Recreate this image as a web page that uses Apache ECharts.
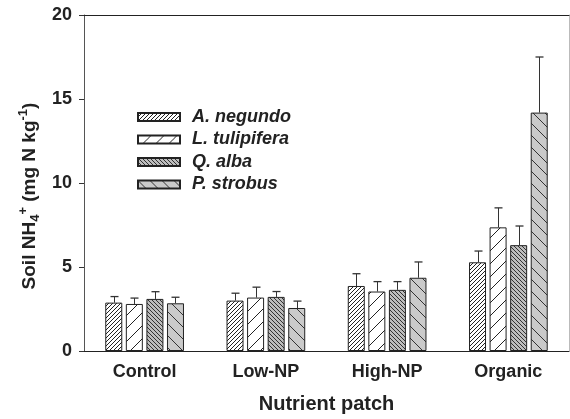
<!DOCTYPE html>
<html>
<head>
<meta charset="utf-8">
<script src="https://cdn.jsdelivr.net/npm/echarts@6/dist/echarts.min.js"></script>
<style>
html,body{margin:0;padding:0;background:#fff;}
#chart{width:570px;height:419px;}
</style>
</head>
<body>
<div id="chart"></div>
<script>
// ---- data ----
const categories = ['Control', 'Low-NP', 'High-NP', 'Organic'];
const seriesNames = ['A. negundo', 'L. tulipifera', 'Q. alba', 'P. strobus'];
const negundo     = [2.88, 3.00, 3.87, 5.28];
const negundoErr  = [0.36, 0.44, 0.73, 0.67];
const tulipifera    = [2.80, 3.18, 3.54, 7.36];
const tulipiferaErr = [0.35, 0.62, 0.59, 1.16];
const alba    = [3.10, 3.22, 3.64, 6.30];
const albaErr = [0.43, 0.32, 0.49, 1.14];
const strobus    = [2.84, 2.56, 4.36, 14.19];
const strobusErr = [0.36, 0.41, 0.94, 3.31];
const yTicks = [0, 5, 10, 15, 20];

const means = [negundo, tulipifera, alba, strobus];
const errs = [negundoErr, tulipiferaErr, albaErr, strobusErr];

// ---- hatch patterns ----
function makePattern(bg, dir, s, lineColor, lw) {
  const c = document.createElement('canvas');
  c.width = s; c.height = s;
  const ctx = c.getContext('2d');
  ctx.fillStyle = bg;
  ctx.fillRect(0, 0, s, s);
  ctx.strokeStyle = lineColor;
  ctx.lineWidth = lw;
  for (let k = -1; k <= 1; k++) {
    ctx.beginPath();
    if (dir === '/') {
      ctx.moveTo(k * s, s); ctx.lineTo(k * s + s, 0);
    } else {
      ctx.moveTo(k * s, 0); ctx.lineTo(k * s + s, s);
    }
    ctx.stroke();
  }
  return { image: c, repeat: 'repeat' };
}
const fills = [
  makePattern('#ffffff', '/', 4, '#222', 1),
  makePattern('#ffffff', '/', 13, '#222', 1),
  makePattern('#bdbdbd', '\\', 4, '#333', 1),
  makePattern('#cacaca', '\\', 12, '#333', 1)
];

const BAR_W = 17;
const GAP = 0.21;
const STEP = BAR_W * (1 + GAP);

const FONT = '"Liberation Sans", Arial, Helvetica, sans-serif';

const series = [];
seriesNames.forEach((name, k) => {
  series.push({
    name: name,
    type: 'bar',
    data: means[k],
    barWidth: BAR_W,
    barGap: (GAP * 100) + '%',
    itemStyle: { color: fills[k], borderColor: '#222', borderWidth: 1 },
    emphasis: { disabled: true },
    z: 2
  });
});
seriesNames.forEach((name, k) => {
  series.push({
    type: 'custom',
    name: name + ' err',
    data: categories.map((c, i) => [i, means[k][i], errs[k][i]]),
    z: 3,
    silent: true,
    renderItem: function (params, api) {
      const base = api.coord([api.value(0), api.value(1)]);
      const top = api.coord([api.value(0), api.value(1) + api.value(2)]);
      const x = Math.round(base[0] + (k - 1.5) * STEP) + 0.5;
      return {
        type: 'group',
        children: [
          { type: 'line', shape: { x1: x, y1: base[1], x2: x, y2: top[1] }, style: { stroke: '#333', lineWidth: 1 } },
          { type: 'line', shape: { x1: x - 4, y1: top[1], x2: x + 4, y2: top[1] }, style: { stroke: '#333', lineWidth: 1.3 } }
        ]
      };
    }
  });
});

const chart = echarts.init(document.getElementById('chart'), null, { renderer: 'canvas' });
chart.setOption({
  animation: false,
  backgroundColor: '#fff',
  textStyle: { fontFamily: FONT },
  grid: { left: 84, right: 1, top: 15, bottom: 64, containLabel: false },
  legend: {
    data: seriesNames.map(n => ({ name: n, icon: 'rect' })),
    orient: 'vertical',
    left: 137,
    top: 108,
    padding: 0,
    itemWidth: 42,
    itemHeight: 8,
    itemGap: 4.5,
    selectedMode: false,
    textStyle: {
      fontFamily: FONT, fontSize: 18, fontWeight: 'bold', fontStyle: 'italic',
      color: '#222', padding: [0, 0, 0, 7]
    }
  },
  xAxis: [
    {
      type: 'category',
      data: categories,
      position: 'bottom',
      axisLine: { lineStyle: { color: '#222', width: 1 } },
      axisTick: { alignWithLabel: true, length: 4, lineStyle: { color: '#222' } },
      axisLabel: { margin: 12, fontSize: 18, fontWeight: 'bold', color: '#222', fontFamily: FONT },
      name: 'Nutrient patch',
      nameLocation: 'middle',
      nameGap: 43,
      nameTextStyle: { fontSize: 20, fontWeight: 'bold', color: '#222', fontFamily: FONT }
    },
    {
      type: 'category',
      data: categories,
      position: 'top',
      axisLine: { show: true, onZero: false, lineStyle: { color: '#222', width: 1 } },
      axisTick: { show: false },
      axisLabel: { show: false }
    }
  ],
  yAxis: [
    {
      type: 'value',
      min: yTicks[0],
      max: yTicks[yTicks.length - 1],
      interval: yTicks[1] - yTicks[0],
      position: 'left',
      splitLine: { show: false },
      axisLine: { show: true, onZero: false, lineStyle: { color: '#555', width: 1 } },
      axisTick: { show: true, length: 5, inside: false, lineStyle: { color: '#333' } },
      axisLabel: { margin: 12, fontSize: 18, fontWeight: 'bold', color: '#222', fontFamily: FONT }
    },
    {
      type: 'value',
      min: yTicks[0],
      max: yTicks[yTicks.length - 1],
      interval: yTicks[1] - yTicks[0],
      position: 'right',
      splitLine: { show: false },
      axisLine: { show: true, onZero: false, lineStyle: { color: '#bbb', width: 1 } },
      axisTick: { show: false },
      axisLabel: { show: false }
    }
  ],
  graphic: [
    {
      type: 'text',
      x: 30,
      y: 196,
      rotation: Math.PI / 2,
      style: {
        text: '{m|Soil NH}{sub|4}{sup|+}{m| (mg N kg}{sup|-1}{m|)}',
        align: 'center',
        verticalAlign: 'middle',
        fontFamily: FONT,
        rich: {
          m: { fontSize: 19, fontWeight: 'bold', fill: '#222', fontFamily: FONT, lineHeight: 30, verticalAlign: 'middle' },
          sub: { fontSize: 13, fontWeight: 'bold', fill: '#222', fontFamily: FONT, lineHeight: 30, verticalAlign: 'bottom', padding: [0, 0, 3, 0] },
          sup: { fontSize: 13, fontWeight: 'bold', fill: '#222', fontFamily: FONT, lineHeight: 30, verticalAlign: 'top', padding: [2, 0, 0, 0] }
        }
      }
    }
  ],
  series: series
});
</script>
</body>
</html>
